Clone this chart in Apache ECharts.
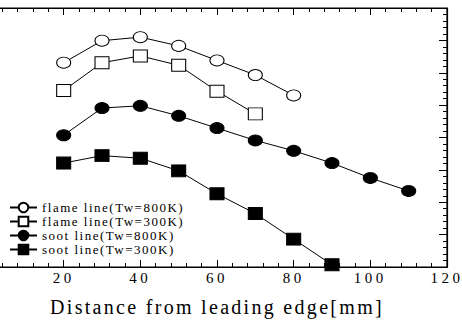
<!doctype html>
<html>
    <head>
        <meta charset="utf-8">
        <style>
            html, body { margin: 0; padding: 0; background: #fff; }
            #main { width: 462px; height: 322px; }
        </style>
    </head>
    <body>
        <div id="main"></div>
        <script src="https://cdn.jsdelivr.net/npm/echarts@6/dist/echarts.min.js"></script>
        <script>
            var xValues = [20, 30, 40, 50, 60, 70, 80, 90, 100, 110];
            var seriesNames = ['flame line(Tw=800K)', 'flame line(Tw=300K)', 'soot line(Tw=800K)', 'soot line(Tw=300K)'];
            var flame800 = [6.31, 6.99, 7.10, 6.83, 6.38, 5.93, 5.30];
            var flame300 = [5.45, 6.31, 6.52, 6.23, 5.43, 4.73];
            var soot800 = [4.07, 4.91, 4.98, 4.67, 4.29, 3.91, 3.59, 3.21, 2.75, 2.35];
            var soot300 = [3.21, 3.44, 3.36, 2.97, 2.26, 1.65, 0.86, 0.07];

            function pairs(vals) {
                return vals.map(function (v, i) { return [xValues[i], v]; });
            }

            var font = 'Liberation Serif';
            var chart = echarts.init(document.getElementById('main'), null, { renderer: 'svg' });

            function lineSeries(name, vals, symbol, size, fill) {
                return {
                    name: name,
                    type: 'line',
                    data: pairs(vals),
                    symbol: symbol,
                    symbolSize: size,
                    showAllSymbol: true,
                    lineStyle: { color: '#000', width: 1 },
                    itemStyle: { color: fill, borderColor: '#000', borderWidth: 1 },
                    emphasis: { disabled: true }
                };
            }

            chart.setOption({
                animation: false,
                // left edge sits off-screen so the plot starts at x=5 like the scan
                grid: {
                    left: -13, right: 15, top: 8, bottom: 55, outerBoundsMode: 'none', z: 10,
                    show: true, backgroundColor: 'transparent', borderColor: '#000', borderWidth: 1.2
                },
                legend: {
                    orient: 'vertical',
                    left: 9,
                    top: 201,
                    padding: 0,
                    itemWidth: 27,
                    itemHeight: 12,
                    itemGap: 1,
                    data: seriesNames,
                    textStyle: { fontFamily: font, fontSize: 13, lineHeight: 12, color: '#000' }
                },
                xAxis: [{
                    type: 'value',
                    z: 10,
                    min: 0,
                    max: 120,
                    interval: 20,
                    position: 'bottom',
                    name: 'Distance from leading edge[mm]',
                    nameLocation: 'middle',
                    nameGap: 30,
                    nameTextStyle: { fontFamily: font, fontSize: 20, color: '#000' },
                    axisLine: { show: true, onZero: false, lineStyle: { color: '#000', width: 1.2 } },
                    axisTick: { show: true, inside: true, length: 7, lineStyle: { color: '#000' } },
                    minorTick: { show: true, splitNumber: 5, length: 4, lineStyle: { color: '#000' } },
                    axisLabel: { margin: 3, showMinLabel: false, fontFamily: font, fontSize: 15, color: '#000' },
                    splitLine: { show: false }
                }, {
                    type: 'value',
                    z: 10,
                    min: 0,
                    max: 120,
                    interval: 20,
                    position: 'top',
                    axisLine: { show: true, onZero: false, lineStyle: { color: '#000', width: 1.2 } },
                    axisTick: { show: true, inside: true, length: 7, lineStyle: { color: '#000' } },
                    minorTick: { show: true, splitNumber: 5, length: 4, lineStyle: { color: '#000' } },
                    axisLabel: { show: false },
                    splitLine: { show: false }
                }],
                yAxis: {
                    type: 'value',
                    z: 10,
                    min: 0,
                    max: 8,
                    interval: 1,
                    position: 'right',
                    axisLine: { show: true, onZero: false, lineStyle: { color: '#000', width: 1.2 } },
                    axisTick: { show: true, inside: true, length: 8, lineStyle: { color: '#000' } },
                    minorTick: { show: true, splitNumber: 5, length: 4, lineStyle: { color: '#000' } },
                    axisLabel: { show: false },
                    splitLine: { show: false }
                },
                series: [
                    lineSeries(seriesNames[0], flame800, 'circle', [14, 11], '#fff'),
                    lineSeries(seriesNames[1], flame300, 'rect', [14, 12], '#fff'),
                    lineSeries(seriesNames[2], soot800, 'circle', [14, 11], '#000'),
                    lineSeries(seriesNames[3], soot300, 'rect', [14, 12], '#000')
                ]
            });

            // the old plot has wide letter spacing; space out the svg text by size
            var texts = document.querySelectorAll('#main text');
            for (var i = 0; i < texts.length; i++) {
                var size = parseFloat(getComputedStyle(texts[i]).fontSize);
                texts[i].style.letterSpacing = size >= 19 ? '2.3px' : (size >= 14 ? '3.5px' : '1.5px');
            }

            window.onresize = chart.resize;
        </script>
    </body>
</html>
